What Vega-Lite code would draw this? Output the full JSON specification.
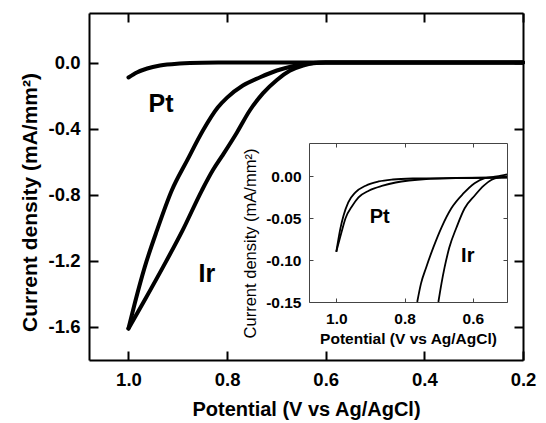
{
  "$schema": "https://vega.github.io/schema/vega-lite/v6.json",
  "width": 434,
  "height": 347,
  "autosize": {"type": "none"},
  "padding": {"left": 89, "top": 13, "right": 23, "bottom": 63},
  "background": "white",
  "config": {
    "font": "Liberation Sans",
    "view": {"stroke": null},
    "locale": {"number": {"decimal": ".", "thousands": ",", "grouping": [3], "currency": ["$", ""], "minus": "-"}},
    "axis": {"grid": false, "domainColor": "black", "tickColor": "black", "labelColor": "black", "titleColor": "black", "labelFontWeight": "bold", "titleFontWeight": "bold", "labelFlush": false, "labelOverlap": false}
  },
  "datasets": {
    "main": [
      {"s": "Pt", "i": 0, "E": 1.0, "j": -0.09},
      {"s": "Pt", "i": 1, "E": 0.983, "j": -0.06},
      {"s": "Pt", "i": 2, "E": 0.962, "j": -0.036},
      {"s": "Pt", "i": 3, "E": 0.936, "j": -0.018},
      {"s": "Pt", "i": 4, "E": 0.896, "j": -0.006},
      {"s": "Pt", "i": 5, "E": 0.85, "j": -0.001},
      {"s": "Pt", "i": 6, "E": 0.8, "j": 0.0},
      {"s": "Pt", "i": 7, "E": 0.2, "j": 0.0},
      {"s": "Ir-a", "i": 0, "E": 1.0, "j": -1.61},
      {"s": "Ir-a", "i": 1, "E": 0.987, "j": -1.455},
      {"s": "Ir-a", "i": 2, "E": 0.967, "j": -1.238},
      {"s": "Ir-a", "i": 3, "E": 0.942, "j": -1.014},
      {"s": "Ir-a", "i": 4, "E": 0.912, "j": -0.773},
      {"s": "Ir-a", "i": 5, "E": 0.881, "j": -0.592},
      {"s": "Ir-a", "i": 6, "E": 0.849, "j": -0.411},
      {"s": "Ir-a", "i": 7, "E": 0.819, "j": -0.272},
      {"s": "Ir-a", "i": 8, "E": 0.8, "j": -0.212},
      {"s": "Ir-a", "i": 9, "E": 0.768, "j": -0.139},
      {"s": "Ir-a", "i": 10, "E": 0.733, "j": -0.089},
      {"s": "Ir-a", "i": 11, "E": 0.699, "j": -0.048},
      {"s": "Ir-a", "i": 12, "E": 0.667, "j": -0.022},
      {"s": "Ir-a", "i": 13, "E": 0.638, "j": -0.006},
      {"s": "Ir-a", "i": 14, "E": 0.6, "j": 0.0},
      {"s": "Ir-a", "i": 15, "E": 0.2, "j": 0.0},
      {"s": "Ir-b", "i": 0, "E": 1.0, "j": -1.61},
      {"s": "Ir-b", "i": 1, "E": 0.967, "j": -1.437},
      {"s": "Ir-b", "i": 2, "E": 0.93, "j": -1.238},
      {"s": "Ir-b", "i": 3, "E": 0.89, "j": -1.014},
      {"s": "Ir-b", "i": 4, "E": 0.851, "j": -0.773},
      {"s": "Ir-b", "i": 5, "E": 0.829, "j": -0.652},
      {"s": "Ir-b", "i": 6, "E": 0.81, "j": -0.565},
      {"s": "Ir-b", "i": 7, "E": 0.78, "j": -0.423},
      {"s": "Ir-b", "i": 8, "E": 0.754, "j": -0.29},
      {"s": "Ir-b", "i": 9, "E": 0.727, "j": -0.185},
      {"s": "Ir-b", "i": 10, "E": 0.699, "j": -0.105},
      {"s": "Ir-b", "i": 11, "E": 0.673, "j": -0.05},
      {"s": "Ir-b", "i": 12, "E": 0.646, "j": -0.018},
      {"s": "Ir-b", "i": 13, "E": 0.625, "j": -0.004},
      {"s": "Ir-b", "i": 14, "E": 0.6, "j": 0.0},
      {"s": "Ir-b", "i": 15, "E": 0.2, "j": 0.0}
    ],
    "mainLabels": [
      {"label": "Pt", "E": 0.934, "j": -0.25},
      {"label": "Ir", "E": 0.841, "j": -1.28}
    ],
    "inset": [
      {"s": "Pt-a", "i": 0, "E": 1.0, "j": -0.09},
      {"s": "Pt-a", "i": 1, "E": 0.988, "j": -0.062},
      {"s": "Pt-a", "i": 2, "E": 0.979, "j": -0.047},
      {"s": "Pt-a", "i": 3, "E": 0.965, "j": -0.031},
      {"s": "Pt-a", "i": 4, "E": 0.944, "j": -0.019},
      {"s": "Pt-a", "i": 5, "E": 0.914, "j": -0.011},
      {"s": "Pt-a", "i": 6, "E": 0.876, "j": -0.006},
      {"s": "Pt-a", "i": 7, "E": 0.834, "j": -0.0036},
      {"s": "Pt-a", "i": 8, "E": 0.775, "j": -0.0024},
      {"s": "Pt-a", "i": 9, "E": 0.737, "j": -0.0022},
      {"s": "Pt-a", "i": 10, "E": 0.65, "j": -0.0018},
      {"s": "Pt-a", "i": 11, "E": 0.5, "j": -0.001},
      {"s": "Pt-b", "i": 0, "E": 1.0, "j": -0.09},
      {"s": "Pt-b", "i": 1, "E": 0.985, "j": -0.067},
      {"s": "Pt-b", "i": 2, "E": 0.973, "j": -0.05},
      {"s": "Pt-b", "i": 3, "E": 0.953, "j": -0.035},
      {"s": "Pt-b", "i": 4, "E": 0.935, "j": -0.025},
      {"s": "Pt-b", "i": 5, "E": 0.905, "j": -0.017},
      {"s": "Pt-b", "i": 6, "E": 0.864, "j": -0.011},
      {"s": "Pt-b", "i": 7, "E": 0.826, "j": -0.0072},
      {"s": "Pt-b", "i": 8, "E": 0.787, "j": -0.0048},
      {"s": "Pt-b", "i": 9, "E": 0.737, "j": -0.003},
      {"s": "Pt-b", "i": 10, "E": 0.65, "j": -0.002},
      {"s": "Pt-b", "i": 11, "E": 0.5, "j": -0.0012},
      {"s": "Ir-a", "i": 0, "E": 0.763, "j": -0.15},
      {"s": "Ir-a", "i": 1, "E": 0.752, "j": -0.128},
      {"s": "Ir-a", "i": 2, "E": 0.737, "j": -0.109},
      {"s": "Ir-a", "i": 3, "E": 0.716, "j": -0.085},
      {"s": "Ir-a", "i": 4, "E": 0.692, "j": -0.061},
      {"s": "Ir-a", "i": 5, "E": 0.663, "j": -0.038},
      {"s": "Ir-a", "i": 6, "E": 0.627, "j": -0.02},
      {"s": "Ir-a", "i": 7, "E": 0.595, "j": -0.008},
      {"s": "Ir-a", "i": 8, "E": 0.565, "j": -0.002},
      {"s": "Ir-a", "i": 9, "E": 0.53, "j": 0.0},
      {"s": "Ir-a", "i": 10, "E": 0.5, "j": 0.0024},
      {"s": "Ir-b", "i": 0, "E": 0.701, "j": -0.15},
      {"s": "Ir-b", "i": 1, "E": 0.692, "j": -0.128},
      {"s": "Ir-b", "i": 2, "E": 0.683, "j": -0.109},
      {"s": "Ir-b", "i": 3, "E": 0.669, "j": -0.085},
      {"s": "Ir-b", "i": 4, "E": 0.648, "j": -0.061},
      {"s": "Ir-b", "i": 5, "E": 0.624, "j": -0.038},
      {"s": "Ir-b", "i": 6, "E": 0.595, "j": -0.023},
      {"s": "Ir-b", "i": 7, "E": 0.568, "j": -0.011},
      {"s": "Ir-b", "i": 8, "E": 0.545, "j": -0.004},
      {"s": "Ir-b", "i": 9, "E": 0.521, "j": -0.001},
      {"s": "Ir-b", "i": 10, "E": 0.5, "j": 0.0}
    ],
    "insetLabels": [
      {"label": "Pt", "E": 0.873, "j": -0.049},
      {"label": "Ir", "E": 0.615, "j": -0.095}
    ]
  },
  "layer": [
    {
      "layer": [
        {
          "data": {"name": "main"},
          "mark": {"type": "line", "color": "black", "strokeWidth": 4, "strokeCap": "round", "strokeJoin": "round", "interpolate": "monotone"},
          "encoding": {
            "x": {"field": "E", "type": "quantitative",
              "scale": {"domain": [0.2, 1.08], "reverse": true, "nice": false, "zero": false},
              "axis": {"orient": "bottom", "values": [1.0, 0.8, 0.6, 0.4, 0.2], "format": ".1f", "title": "Potential (V vs Ag/AgCl)",
                "domainWidth": 2, "tickWidth": 2, "tickSize": -9, "labelPadding": 19, "labelFontSize": 18.5, "titleFontSize": 20, "titlePadding": 11}},
            "y": {"field": "j", "type": "quantitative",
              "scale": {"domain": [-1.8, 0.3], "nice": false, "zero": false},
              "axis": {"orient": "left", "values": [0, -0.4, -0.8, -1.2, -1.6], "format": ".1f", "title": "Current density (mA/mm²)",
                "domainWidth": 2, "tickWidth": 2, "tickSize": -9, "labelPadding": 18, "labelFontSize": 18.5, "titleFontSize": 21, "titlePadding": 8, "titleY": 189}},
            "detail": {"field": "s"},
            "order": {"field": "i", "type": "quantitative"}
          }
        },
        {
          "data": {"name": "mainLabels"},
          "mark": {"type": "text", "fontSize": 25, "fontWeight": "bold", "color": "black", "align": "center", "baseline": "middle"},
          "encoding": {
            "x": {"field": "E", "type": "quantitative",
              "scale": {"domain": [0.2, 1.08], "reverse": true, "nice": false, "zero": false},
              "axis": {"orient": "top", "values": [1.0, 0.8, 0.6, 0.4, 0.2], "labels": false, "title": null, "domainWidth": 2, "tickWidth": 2, "tickSize": -9}},
            "y": {"field": "j", "type": "quantitative",
              "scale": {"domain": [-1.8, 0.3], "nice": false, "zero": false},
              "axis": {"orient": "right", "values": [0, -0.4, -0.8, -1.2, -1.6], "labels": false, "title": null, "domainWidth": 2, "tickWidth": 2, "tickSize": -9}},
            "text": {"field": "label"}
          }
        }
      ],
      "resolve": {"axis": {"x": "independent", "y": "independent"}}
    },
    {
      "layer": [
        {
          "data": {"name": "inset"},
          "mark": {"type": "line", "color": "black", "strokeWidth": 1.8, "interpolate": "monotone"},
          "encoding": {
            "x": {"field": "E", "type": "quantitative",
              "scale": {"domain": [0.5, 1.08], "reverse": true, "range": [220, 418], "nice": false, "zero": false},
              "axis": {"orient": "bottom", "offset": -58, "values": [1.0, 0.8, 0.6], "format": ".1f", "title": "Potential (V vs Ag/AgCl)",
                "domainWidth": 1, "domainColor": "#444", "tickWidth": 1, "tickColor": "#444", "tickSize": -4, "labelPadding": 13, "labelFontSize": 15.5, "titleFontSize": 15.5, "titlePadding": 5}},
            "y": {"field": "j", "type": "quantitative",
              "scale": {"domain": [-0.15, 0.04], "range": [289, 130], "nice": false, "zero": false},
              "axis": {"orient": "left", "offset": -220, "values": [0, -0.05, -0.1, -0.15], "format": ".2f", "title": "Current density (mA/mm²)",
                "domainWidth": 1, "domainColor": "#444", "tickWidth": 1, "tickColor": "#444", "tickSize": -4, "labelPadding": 12, "labelFontSize": 15.5, "titleFontSize": 16.5, "titleFontWeight": "normal", "titlePadding": 7, "titleY": 230}},
            "detail": {"field": "s"},
            "order": {"field": "i", "type": "quantitative"}
          }
        },
        {
          "data": {"name": "insetLabels"},
          "mark": {"type": "text", "fontSize": 20, "fontWeight": "bold", "color": "black", "align": "center", "baseline": "middle"},
          "encoding": {
            "x": {"field": "E", "type": "quantitative",
              "scale": {"domain": [0.5, 1.08], "reverse": true, "range": [220, 418], "nice": false, "zero": false},
              "axis": {"orient": "top", "offset": -130, "values": [1.0, 0.8, 0.6], "labels": false, "title": null, "domainWidth": 1, "domainColor": "#444", "tickWidth": 1, "tickColor": "#444", "tickSize": -4}},
            "y": {"field": "j", "type": "quantitative",
              "scale": {"domain": [-0.15, 0.04], "range": [289, 130], "nice": false, "zero": false},
              "axis": {"orient": "right", "offset": -16, "values": [0, -0.05, -0.1, -0.15], "labels": false, "title": null, "domainWidth": 1, "domainColor": "#444", "tickWidth": 1, "tickColor": "#444", "tickSize": -4}},
            "text": {"field": "label"}
          }
        }
      ],
      "resolve": {"axis": {"x": "independent", "y": "independent"}}
    }
  ],
  "resolve": {"scale": {"x": "independent", "y": "independent"}}
}
